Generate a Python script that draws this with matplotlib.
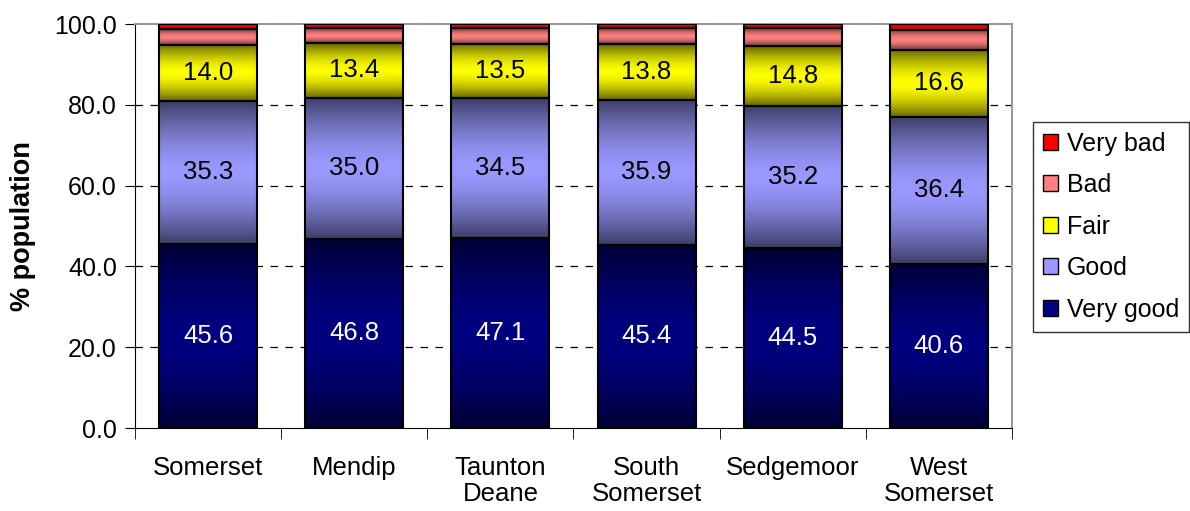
import numpy as np
import matplotlib.pyplot as plt
from matplotlib.patches import Patch
from matplotlib.colors import to_rgb

plt.rcParams['font.family'] = ['Liberation Sans', 'DejaVu Sans']

# 数据
areas = ['Somerset', 'Mendip', 'Taunton\nDeane', 'South\nSomerset', 'Sedgemoor', 'West\nSomerset']
very_good = [45.6, 46.8, 47.1, 45.4, 44.5, 40.6]
good = [35.3, 35.0, 34.5, 35.9, 35.2, 36.4]
fair = [14.0, 13.4, 13.5, 13.8, 14.8, 16.6]
bad = [3.9, 3.7, 3.8, 3.8, 4.4, 5.0]
very_bad = [1.2, 1.1, 1.1, 1.1, 1.1, 1.4]

series = [
    ('Very good', very_good, '#000080', 'white', True),
    ('Good', good, '#9999FF', 'black', True),
    ('Fair', fair, '#FFFF00', 'black', True),
    ('Bad', bad, '#FF8080', 'black', False),
    ('Very bad', very_bad, '#FF0000', 'black', False),
]


def gradient_img(color, dark=0.4, n=200):
    # 上下偏暗、中间亮的竖向渐变
    t = np.linspace(0, 1, n)
    f = 1 - (1 - dark) * np.abs(2 * t - 1) ** 1.6
    rgb = np.array(to_rgb(color))
    return (f[:, None] * rgb[None, :])[:, None, :]


fig = plt.figure(figsize=(11.9, 5.11), dpi=100)
ax = fig.add_axes([0.1134, 0.1624, 0.737, 0.7906])

x = np.arange(len(areas))
width = 0.67
bottom = np.zeros(len(areas))

for name, vals, color, tcolor, show in series:
    vals = np.array(vals)
    img = gradient_img(color)
    for i in range(len(areas)):
        ax.imshow(img, extent=[x[i] - width / 2, x[i] + width / 2, bottom[i], bottom[i] + vals[i]],
                  aspect='auto', zorder=2, interpolation='bilinear')
    ax.bar(x, vals, width, bottom=bottom, facecolor='none', edgecolor='black', linewidth=1.5, zorder=3)
    if show:
        for i in range(len(areas)):
            ax.text(x[i], bottom[i] + vals[i] / 2, f'{vals[i]:.1f}', ha='center', va='center',
                    color=tcolor, fontsize=18.5, zorder=4)
    bottom += vals

ax.set_xlim(-0.5, len(areas) - 0.5)
ax.set_ylim(0, 100)
ax.set_yticks(np.arange(0, 101, 20))
ax.set_yticklabels([f'{v:.1f}' for v in np.arange(0, 101, 20)], fontsize=18)
ax.set_xticks(x)
ax.set_xticklabels(areas, fontsize=18.5, linespacing=1.1)
ax.tick_params(axis='x', length=0, pad=20)
ax.set_xticks(np.arange(-0.5, len(areas), 1), minor=True)
ax.tick_params(axis='x', which='minor', length=8, direction='out', color='black')
ax.tick_params(axis='y', length=7, direction='out', pad=6)

for yv in [20, 40, 60, 80]:
    ax.axhline(yv, color='black', linestyle=(0, (6, 6)), linewidth=0.9, zorder=1)

ax.spines['top'].set_color('#999999')
ax.spines['right'].set_color('#999999')
ax.spines['top'].set_linewidth(1.5)
ax.spines['right'].set_linewidth(1.5)

ax.set_ylabel('% population', fontsize=19.5, fontweight='bold', labelpad=13)

handles = [Patch(facecolor=c, edgecolor='black', label=n) for n, _, c, _, _ in series][::-1]
leg = fig.legend(handles=handles, loc='upper left', bbox_to_anchor=(0.868, 0.762),
                 fontsize=18, frameon=True, fancybox=False, edgecolor='black',
                 handlelength=0.6, handleheight=0.6, handletextpad=0.35, labelspacing=0.7,
                 borderpad=0.4, borderaxespad=0)
leg.get_frame().set_linewidth(1.0)

plt.savefig('out.png', dpi=100)
